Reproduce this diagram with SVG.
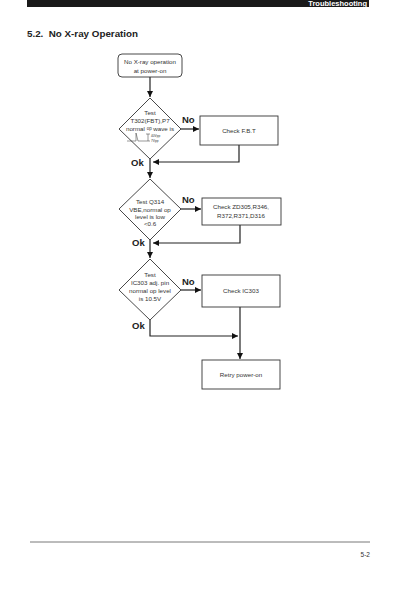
<svg xmlns="http://www.w3.org/2000/svg" width="400" height="594" viewBox="0 0 400 594">
<style>
.t{font-family:"Liberation Sans",Arial,sans-serif;font-size:6.2px;fill:#333;text-anchor:middle}
.lb{font-family:"Liberation Sans",Arial,sans-serif;font-size:9.5px;font-weight:bold;fill:#222}
.sh{fill:#fff;stroke:#333;stroke-width:0.9}
.ln{fill:none;stroke:#222;stroke-width:1.2}
</style>
<defs>
<marker id="ah" viewBox="0 0 10 10" refX="10" refY="5" markerWidth="6.5" markerHeight="6" orient="auto" markerUnits="userSpaceOnUse">
<path d="M0,0 L10,5 L0,10 Z" fill="#111"/>
</marker>
</defs>
<rect width="400" height="594" fill="#fff"/>
<g id="header">
<rect x="27" y="0" width="342" height="7" fill="#1a1a1a"/>
<text x="367" y="6" font-family="Liberation Sans,Arial,sans-serif" font-size="7.5" font-weight="bold" fill="#fff" text-anchor="end">Troubleshooting</text>
</g>
<text x="27" y="36.5" font-family="Liberation Sans,Arial,sans-serif" font-size="9.8" font-weight="bold" fill="#222" xml:space="preserve">5.2.  No X-ray Operation</text>

<g id="connectors">
<path class="ln" d="M150,77 V97" marker-end="url(#ah)"/>
<path class="ln" d="M181,129 H199" marker-end="url(#ah)"/>
<path class="ln" d="M239,145 V162 H153" marker-end="url(#ah)"/>
<path class="ln" d="M150,159 V178" marker-end="url(#ah)"/>
<path class="ln" d="M181,209 H201" marker-end="url(#ah)"/>
<path class="ln" d="M240,225 V243 H153" marker-end="url(#ah)"/>
<path class="ln" d="M150,240 V258" marker-end="url(#ah)"/>
<path class="ln" d="M181,290 H201" marker-end="url(#ah)"/>
<path class="ln" d="M150,320 V336 H238" marker-end="url(#ah)"/>
<path class="ln" d="M240,307 V359" marker-end="url(#ah)"/>
</g>

<g id="start">
<rect class="sh" x="118" y="54" width="64" height="23" rx="4"/>
<text class="t" x="150" y="64">No X-ray operation</text>
<text class="t" x="150" y="72.5">at power-on</text>
</g>

<g id="d1">
<polygon class="sh" points="150,98 181,129 150,159 119,129"/>
<text class="t" x="150" y="115">Test</text>
<text class="t" x="150" y="123">T302(FBT),P7</text>
<text class="t" x="150" y="130.5">normal <tspan font-size="4.5" dy="-1">op</tspan><tspan dy="1"> wave is</tspan></text>
<g fill="none" stroke="#333" stroke-width="0.5">
<path d="M127,141 H136 V133 L138,141 H146"/>
<path d="M146,134 H150 M148,134 V141 M146,141 H150"/>
</g>
<text x="151" y="137" font-family="Liberation Sans,Arial,sans-serif" font-size="3.2" fill="#333">40Vpp</text>
<text x="151" y="142" font-family="Liberation Sans,Arial,sans-serif" font-size="3.2" fill="#333">7Vpp</text>
</g>

<g id="b1">
<rect class="sh" x="200" y="116" width="78" height="29"/>
<text class="t" x="239" y="133">Check F.B.T</text>
</g>

<g id="d2">
<polygon class="sh" points="150,179 181,209 150,240 119,209"/>
<text class="t" x="150" y="204">Test Q314</text>
<text class="t" x="150" y="211.5">VBE,normal op</text>
<text class="t" x="150" y="219">level is low</text>
<text class="t" x="150" y="226">&lt;0.6</text>
</g>

<g id="b2">
<rect class="sh" x="202" y="198" width="79" height="27"/>
<text class="t" x="241" y="209">Check ZD305,R346,</text>
<text class="t" x="241" y="217.5">R372,R371,D316</text>
</g>

<g id="d3">
<polygon class="sh" points="150,259 181,290 150,320 119,290"/>
<text class="t" x="150" y="277">Test</text>
<text class="t" x="150" y="285">IC303 adj. pin</text>
<text class="t" x="150" y="293">normal op level</text>
<text class="t" x="150" y="301">is 10.5V</text>
</g>

<g id="b3">
<rect class="sh" x="202" y="275" width="78" height="32"/>
<text class="t" x="241" y="293">Check IC303</text>
</g>

<g id="b4">
<rect class="sh" x="202" y="360" width="78" height="29"/>
<text class="t" x="241" y="377">Retry power-on</text>
</g>

<g id="labels">
<text class="lb" x="182" y="123">No</text>
<text class="lb" x="131" y="166">Ok</text>
<text class="lb" x="182" y="203">No</text>
<text class="lb" x="132" y="246">Ok</text>
<text class="lb" x="182" y="285">No</text>
<text class="lb" x="132" y="329">Ok</text>
</g>

<line x1="30" y1="542" x2="370" y2="542" stroke="#555" stroke-width="0.8"/>
<text x="370" y="557" font-family="Liberation Sans,Arial,sans-serif" font-size="6.5" fill="#333" text-anchor="end">5-2</text>
</svg>
